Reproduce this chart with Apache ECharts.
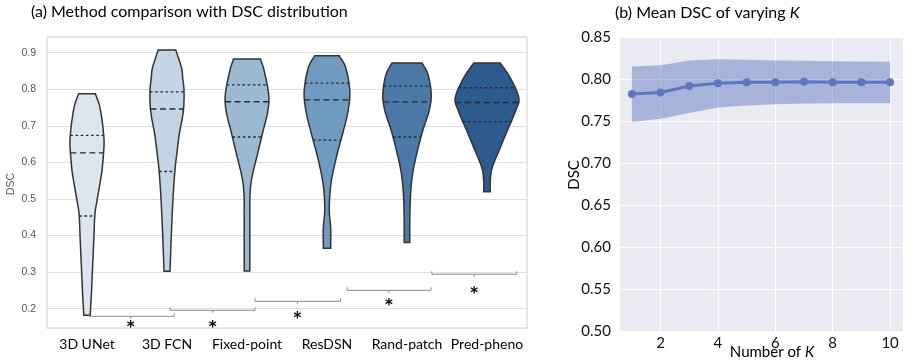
<!DOCTYPE html>
<html><head><meta charset="utf-8">
<script src="https://cdn.jsdelivr.net/npm/echarts@6/dist/echarts.min.js"></script>
<style>html,body{margin:0;padding:0;background:#fff}#c{width:915px;height:361px}</style>
</head><body><div id="c"></div>
<script>
// ---------- DATA ----------
const methods = ['3D UNet', '3D FCN', 'Fixed-point', 'ResDSN', 'Rand-patch', 'Pred-pheno'];
// violin outlines: [DSC, half width as fraction of the category band]
const unetViolin = [[0.7875,0.104],[0.758,0.153],[0.7216,0.184],[0.685,0.204],[0.6484,0.213],[0.5844,0.191],[0.557,0.173],[0.52,0.144],[0.493,0.123],[0.456,0.098],[0.383,0.084],[0.31,0.069],[0.237,0.054],[0.182,0.040]];
const fcnViolin = [[0.9073,0.110],[0.859,0.181],[0.8314,0.196],[0.795,0.213],[0.74,0.204],[0.676,0.153],[0.621,0.121],[0.575,0.098],[0.493,0.073],[0.40,0.054],[0.3025,0.0375]];
const fixedViolin = [[0.8826,0.169],[0.8497,0.216],[0.7856,0.271],[0.74,0.26],[0.685,0.2],[0.621,0.129],[0.557,0.06],[0.511,0.0375],[0.447,0.035],[0.303,0.035]];
const resdsnViolin = [[0.8918,0.152],[0.859,0.234],[0.795,0.285],[0.74,0.263],[0.685,0.203],[0.621,0.125],[0.557,0.06],[0.511,0.035],[0.465,0.029],[0.42,0.046],[0.365,0.046]];
const randViolin = [[0.8716,0.1875],[0.8405,0.2625],[0.7856,0.3025],[0.74,0.275],[0.685,0.194],[0.621,0.119],[0.567,0.069],[0.511,0.044],[0.438,0.035],[0.381,0.035]];
const predViolin = [[0.8716,0.166],[0.8314,0.291],[0.7765,0.3975],[0.74,0.356],[0.685,0.25],[0.630,0.146],[0.584,0.0625],[0.548,0.041],[0.52,0.041]];
// quartiles [Q1, median, Q3]
const quartiles = [[0.4535,0.626,0.674],[0.575,0.746,0.793],[0.6694,0.766,0.812],[0.661,0.771,0.8167],[0.6694,0.7655,0.8085],[0.7115,0.7637,0.804]];
// significance brackets: [from (category units), to, star position, line DSC, star DSC]
const brackets = [[0.025,1.09,0.546,0.179,0.159],[1.04,2.10,1.57,0.1954,0.159],[2.10,3.17,2.63,0.220,0.1836],[3.25,4.30,3.775,0.250,0.218],[4.31,5.37,4.84,0.294,0.250]];
// right panel
const kValues = [1,2,3,4,5,6,7,8,9,10];
const meanDSC = [0.782,0.784,0.7916,0.7948,0.796,0.796,0.7968,0.796,0.796,0.796];
const upperDSC = [0.8148,0.8164,0.822,0.8236,0.8228,0.822,0.8216,0.8212,0.8208,0.8204];
const lowerDSC = [0.7488,0.7528,0.7596,0.766,0.7684,0.77,0.7708,0.771,0.771,0.7712];

// ---------- STYLE ----------
const violins = [unetViolin, fcnViolin, fixedViolin, resdsnViolin, randViolin, predViolin];
const violinColors = ['#dde5ef','#c3d5e5','#9bbad2','#6f9bc0','#4b7aa9','#2d5a8f'];

function catmull(pts, steps) {
  const out = [];
  for (let i = 0; i < pts.length - 1; i++) {
    const p0 = pts[Math.max(0, i - 1)], p1 = pts[i], p2 = pts[i + 1], p3 = pts[Math.min(pts.length - 1, i + 2)];
    for (let s = 0; s < steps; s++) {
      const t = s / steps, t2 = t * t, t3 = t2 * t;
      const f = (a, b, c, d) => 0.5 * ((2 * b) + (-a + c) * t + (2 * a - 5 * b + 4 * c - d) * t2 + (-a + 3 * b - 3 * c + d) * t3);
      out.push([f(p0[0], p1[0], p2[0], p3[0]), f(p0[1], p1[1], p2[1], p3[1])]);
    }
  }
  out.push(pts[pts.length - 1]);
  return out;
}
function widthAt(side, y, cx) {
  for (let i = 0; i < side.length - 1; i++) {
    const a = side[i], b = side[i + 1];
    if ((y >= a[1] && y <= b[1]) || (y <= a[1] && y >= b[1])) {
      const t = (b[1] === a[1]) ? 0 : (y - a[1]) / (b[1] - a[1]);
      return a[0] + t * (b[0] - a[0]) - cx;
    }
  }
  return 0;
}

const chart = echarts.init(document.getElementById('c'), null, {renderer: 'canvas'});
const option = {
  animation: false,
  backgroundColor: '#ffffff',
  grid: [
    {left: 47, right: 388, top: 37, bottom: 33, show: true, borderColor: '#d0d0d0', borderWidth: 1, backgroundColor: '#ffffff'},
    {left: 619, right: 12, top: 37, bottom: 30, show: true, borderWidth: 0, backgroundColor: '#eaeaf2'}
  ],
  xAxis: [
    {type: 'category', gridIndex: 0, data: methods, axisLine: {show: false}, axisTick: {show: false},
     axisLabel: {fontFamily: 'Lato', fontSize: 14, color: '#000', margin: 9, interval: 0, hideOverlap: false}, splitLine: {show: false}},
    {type: 'value', gridIndex: 1, min: 0.55, max: 10.45, splitNumber: 5, axisLine: {show: false}, axisTick: {show: false},
     axisLabel: {fontFamily: 'Lato', fontSize: 15, color: '#111', margin: 5, showMinLabel: false, showMaxLabel: false},
     splitLine: {show: true, lineStyle: {color: '#ffffff', width: 1}}}
  ],
  yAxis: [
    {type: 'value', gridIndex: 0, min: 0.147, max: 0.943, splitNumber: 8, axisLine: {show: false}, axisTick: {show: false},
     axisLabel: {fontFamily: 'Liberation Sans', fontSize: 10.5, color: '#555', margin: 11, showMinLabel: false, showMaxLabel: false,
       formatter: v => v.toFixed(1)},
     splitLine: {show: true, lineStyle: {color: '#dedede', width: 1}}},
    {type: 'value', gridIndex: 1, min: 0.5, max: 0.85, interval: 0.05, axisLine: {show: false}, axisTick: {show: false},
     axisLabel: {fontFamily: 'Lato', fontSize: 15, color: '#111', margin: 8, formatter: v => v.toFixed(2)},
     splitLine: {show: true, lineStyle: {color: '#ffffff', width: 1}}}
  ],
  series: [
    {
      type: 'custom', xAxisIndex: 0, yAxisIndex: 0, z: 3,
      data: methods.map((m, i) => [i, quartiles[i][1]]),
      renderItem: function (params, api) {
        const i = params.dataIndex;
        const prof = violins[i];
        const cx = api.coord([i, 0.5])[0];
        const bw = api.size([1, 0])[0];
        const right = catmull(prof.map(p => [cx + p[1] * bw, api.coord([i, p[0]])[1]]), 10);
        const left = right.map(p => [2 * cx - p[0], p[1]]).reverse();
        const poly = right.concat(left);
        const children = [{
          type: 'polygon', shape: {points: poly},
          style: {fill: violinColors[i], stroke: '#333', lineWidth: 1.5}
        }];
        quartiles[i].forEach((q, k) => {
          const y = api.coord([i, q])[1];
          const w = widthAt(right, y, cx);
          children.push({
            type: 'line', shape: {x1: cx - w, y1: y, x2: cx + w, y2: y},
            style: {stroke: '#2a2a2a', lineWidth: 1.4, lineDash: k === 1 ? [6, 3.5] : [2.6, 2.6]}
          });
        });
        return {type: 'group', children: children};
      }
    },
    {
      type: 'custom', xAxisIndex: 0, yAxisIndex: 0, z: 4,
      data: brackets.map((b, k) => [k, b[3]]),
      renderItem: function (params, api) {
        const b = brackets[params.dataIndex];
        const c0 = api.coord([0, b[3]])[0];
        const bw = api.size([1, 0])[0];
        const x1 = c0 + b[0] * bw, x2 = c0 + b[1] * bw, xm = c0 + b[2] * bw;
        const y = api.coord([0, b[3]])[1];
        const ys = api.coord([0, b[4]])[1];
        const st = {stroke: '#8a8a8a', lineWidth: 1, fill: null};
        return {type: 'group', children: [
          {type: 'polyline', shape: {points: [[x1, y - 3], [x1, y], [x2, y], [x2, y - 3]]}, style: st},
          {type: 'line', shape: {x1: xm, y1: y, x2: xm, y2: y + 2.5}, style: st},
          {type: 'text', style: {text: '*', x: xm, y: ys + 4, align: 'center', verticalAlign: 'middle',
            font: 'bold 15px "DejaVu Sans"', fill: '#000'}}
        ]};
      }
    },
    {
      type: 'custom', xAxisIndex: 1, yAxisIndex: 1, z: 2,
      data: kValues.map((k, i) => [k, meanDSC[i]]),
      renderItem: function (params, api) {
        if (params.dataIndex !== 0) return {type: 'group', children: []};
        const up = kValues.map((k, i) => api.coord([k, upperDSC[i]]));
        const lo = kValues.map((k, i) => api.coord([k, lowerDSC[i]])).reverse();
        return {type: 'polygon', shape: {points: up.concat(lo)}, style: {fill: 'rgba(67,99,180,0.4)'}};
      }
    },
    {
      type: 'line', xAxisIndex: 1, yAxisIndex: 1, z: 5,
      data: kValues.map((k, i) => [k, meanDSC[i]]),
      symbol: 'circle', symbolSize: 8, showSymbol: true,
      lineStyle: {color: '#5e77c1', width: 3},
      itemStyle: {color: '#5e77c1'}
    }
  ],
  graphic: [
    {type: 'text', x: 31, y: 12, style: {text: '(a) Method comparison with DSC distribution', font: '16px Lato', fill: '#000', verticalAlign: 'middle'}},
    {type: 'text', x: 615, y: 13, style: {text: '(b) Mean DSC of varying {i|K}', font: '16px Lato', fill: '#000', verticalAlign: 'middle',
      rich: {i: {fontStyle: 'italic', fontFamily: 'Lato', fontSize: 16, fill: '#000'}}}},
    {type: 'text', x: 772, y: 352, style: {text: 'Number of {i|K}', font: '15px Lato', fill: '#000', align: 'center', verticalAlign: 'middle',
      rich: {i: {fontStyle: 'italic', fontFamily: 'Lato', fontSize: 15, fill: '#000'}}}},
    {type: 'text', x: 11, y: 184, rotation: Math.PI / 2, style: {text: 'DSC', font: '10.5px "Liberation Sans"', fill: '#555', align: 'center', verticalAlign: 'middle'}},
    {type: 'text', x: 574, y: 175, rotation: Math.PI / 2, style: {text: 'DSC', font: '15px Lato', fill: '#000', align: 'center', verticalAlign: 'middle'}}
  ]
};
chart.setOption(option);
</script>
</body></html>
